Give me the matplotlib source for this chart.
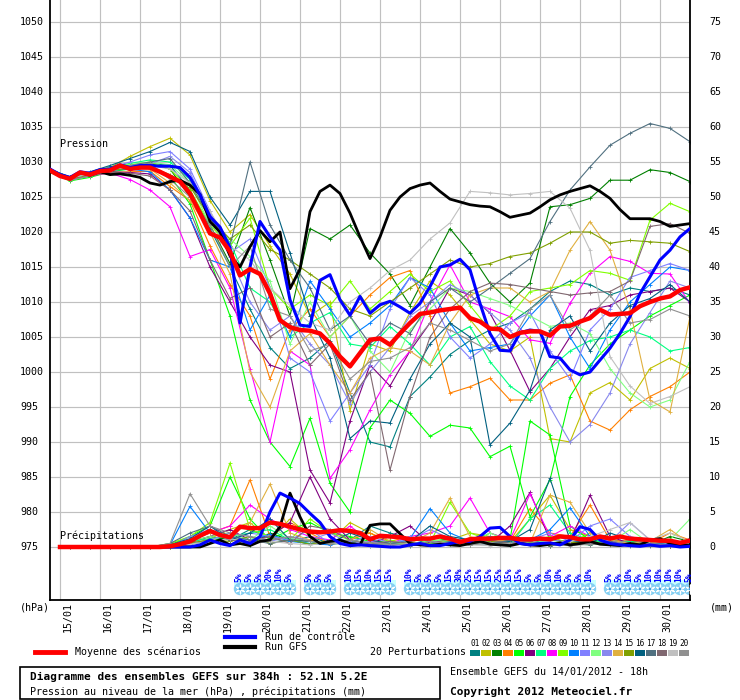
import numpy as np
import matplotlib
matplotlib.use("Agg")
import matplotlib.pyplot as plt
from matplotlib.patches import Rectangle
from matplotlib.lines import Line2D

plt.rcParams['font.family'] = ['DejaVu Sans Mono']

# ---- data (hours since 14/01 18h) ----
hours6 = np.arange(0, 385, 6)       # 65 steps for mean / control / GFS
hours12 = np.arange(0, 385, 12)     # 33 steps for the perturbations
day_labels = ['15/01', '16/01', '17/01', '18/01', '19/01', '20/01', '21/01', '22/01',
              '23/01', '24/01', '25/01', '26/01', '27/01', '28/01', '29/01', '30/01']

mean_pres = [1028.8, 1028.0, 1027.6, 1028.5, 1028.2, 1028.7, 1028.8, 1029.5, 1029.0, 1029.2,
             1029.2, 1028.6, 1027.9, 1027.2, 1025.5, 1022.7, 1019.8, 1019.2, 1017.2, 1013.8,
             1014.7, 1014.0, 1011.2, 1007.4, 1006.4, 1006.0, 1005.9, 1005.5, 1004.1, 1002.2,
             1000.8, 1002.7, 1004.6, 1004.8, 1003.9, 1005.5, 1007.0, 1008.3, 1008.5, 1008.8,
             1009.0, 1009.2, 1007.7, 1007.2, 1006.2, 1006.1, 1005.0, 1005.6, 1005.8, 1005.8,
             1005.2, 1006.5, 1006.6, 1007.2, 1007.7, 1008.9, 1008.2, 1008.3, 1008.4, 1009.4,
             1010.0, 1010.5, 1010.8, 1011.7, 1012.1]
ctrl_pres = [1029.0, 1028.2, 1027.8, 1028.6, 1028.4, 1028.9, 1029.0, 1029.6, 1029.2, 1029.5,
             1029.5, 1029.4, 1029.4, 1029.2, 1027.8, 1025.3, 1022.2, 1020.7, 1017.8, 1007.0,
             1015.0, 1021.5, 1019.3, 1017.4, 1010.3, 1006.7, 1006.5, 1013.1, 1013.9, 1010.3,
             1008.1, 1010.8, 1008.4, 1009.6, 1010.1, 1009.3, 1008.4, 1009.8, 1012.2, 1015.0,
             1015.3, 1016.1, 1014.6, 1009.8, 1005.5, 1003.1, 1003.0, 1005.6, 1006.0, 1005.8,
             1002.2, 1002.0, 1000.3, 999.6, 1000.0, 1001.7, 1003.4, 1005.5, 1007.9, 1011.2,
             1013.6, 1016.0, 1017.4, 1019.3, 1020.5]
gfs_pres = [1028.9, 1028.0, 1027.6, 1028.5, 1028.1, 1028.6, 1028.2, 1028.3, 1028.1, 1027.8,
            1027.0, 1026.7, 1027.2, 1027.4, 1026.7, 1025.4, 1021.5, 1020.0, 1016.6, 1015.0,
            1017.9, 1020.2, 1018.6, 1020.0, 1011.9, 1014.7, 1022.9, 1025.8, 1026.7, 1025.5,
            1022.7, 1019.3, 1016.2, 1019.3, 1023.1, 1025.0, 1026.2, 1026.7, 1027.0, 1025.8,
            1024.7, 1024.3, 1023.9, 1023.7, 1023.6, 1022.9, 1022.1, 1022.4, 1022.7, 1023.6,
            1024.6, 1025.3, 1025.8, 1026.2, 1026.6, 1025.8, 1024.8, 1023.2, 1021.9, 1021.9,
            1021.9, 1021.5, 1020.8, 1021.0, 1021.2]

# precipitation (mm), from +6h
mean_rain = [0, 0, 0, 0, 0, 0, 0, 0, 0, 0,
             0, 0.1, 0.4, 0.8, 1.6, 2.3, 1.7, 1.4, 2.9, 2.7,
             2.7, 3.5, 3.3, 2.9, 2.5, 2.2, 2.1, 2.2, 2.4, 2.3,
             2.0, 1.1, 1.6, 1.5, 1.4, 1.1, 1.2, 1.2, 1.5, 1.2,
             0.7, 1.1, 1.2, 1.2, 1.3, 1.3, 1.1, 1.1, 1.2, 1.1,
             1.5, 1.4, 1.1, 1.1, 1.5, 1.2, 1.5, 1.2, 1.1, 1.0,
             0.9, 0.9, 0.6, 0.9]
ctrl_rain = [0, 0, 0, 0, 0, 0, 0, 0, 0, 0,
             0, 0, 0, 0, 0.3, 1.0, 0.5, 0.2, 1.0, 0.5,
             1.5, 5.0, 7.7, 7.0, 6.2, 4.8, 3.5, 1.5, 0.5, 0.2,
             0.3, 0.2, 0.1, 0.0, 0.0, 0.3, 0.5, 0.2, 0.2, 0.5,
             0.8, 0.8, 1.5, 2.7, 2.8, 1.5, 0.5, 0.3, 0.5, 0.6,
             0.3, 1.0, 2.9, 2.5, 1.0, 0.5, 0.3, 0.2, 0.1, 0.3,
             0.1, 0.2, 0.0, 0.1]
gfs_rain = [0, 0, 0, 0, 0, 0, 0, 0, 0, 0,
            0, 0, 0, 0, 0, 0.5, 1.0, 0.3, 0.5, 0.2,
            0.8, 1.0, 2.9, 7.7, 4.3, 1.5, 0.5, 0.8, 1.0, 0.5,
            0.3, 3.1, 3.3, 3.3, 1.9, 0.5, 0.3, 0.2, 0.4, 0.3,
            0.2, 0.5, 0.8, 0.4, 0.3, 0.2, 0.5, 0.3, 0.2, 0.4,
            0.6, 0.3, 0.5, 0.8, 0.4, 0.3, 0.2, 0.5, 0.3, 1.0,
            1.2, 0.5, 0.3, 0.2]

pert_colors = ['#008080', '#c0c000', '#008000', '#ff8000', '#00ff00', '#800080', '#00ff80',
               '#ff00ff', '#80ff00', '#0080ff', '#8080ff', '#80ff80', '#8888ee', '#e0b040',
               '#80a000', '#006080', '#507080', '#806870', '#c0c0c0', '#909090']

pert_pres = [
    [1029.0, 1027.8, 1028.5, 1029.0, 1029.3, 1029.8, 1029.5, 1026.0, 1020.5, 1015.0, 1009.0,
     1003.5, 1000.5, 1002.0, 1004.5, 997.0, 990.0, 989.3, 996.5, 999.3, 1002.5, 1004.5,
     1006.0, 1007.0, 1009.0, 1011.5, 1013.0, 1012.5, 1011.0, 1012.0, 1011.5, 1012.0, 1011.0],
    [1028.6, 1027.4, 1028.2, 1029.2, 1030.8, 1032.2, 1033.4, 1031.0, 1024.5, 1020.0, 1022.5,
     1018.0, 1014.0, 1008.0, 1010.0, 994.5, 1004.0, 1003.0, 1008.5, 1013.0, 1011.0, 1007.5,
     1004.0, 1003.0, 1005.0, 990.5, 990.0, 997.0, 998.5, 996.0, 1000.5, 1002.0, 1000.5],
    [1028.7, 1027.5, 1028.3, 1028.9, 1029.4, 1029.8, 1029.0, 1025.0, 1021.0, 1015.5, 1023.5,
     1016.0, 1008.0, 1020.5, 1019.0, 1021.0, 1017.0, 1014.0, 1009.5, 1015.0, 1020.5, 1017.0,
     1012.7, 1010.0, 1012.7, 1023.6, 1023.9, 1024.8, 1027.4, 1027.4, 1028.9, 1028.5, 1027.2],
    [1028.9, 1027.7, 1028.0, 1028.5, 1028.6, 1028.7, 1026.5, 1024.5, 1018.0, 1012.5, 1008.0,
     999.0, 1006.0, 1009.0, 1005.0, 1008.0, 1011.0, 1013.5, 1014.5, 1008.0, 997.0, 997.9,
     999.1, 996.0, 996.0, 998.4, 999.6, 993.0, 991.7, 994.6, 996.5, 997.9, 1000.0],
    [1028.5, 1027.3, 1027.8, 1028.6, 1029.0, 1029.2, 1028.0, 1024.0, 1016.0, 1008.0, 996.0,
     990.0, 986.5, 993.4, 984.1, 980.0, 992.0, 996.0, 994.1, 990.8, 992.4, 992.0,
     987.9, 989.4, 979.3, 984.6, 996.5, 1001.0, 1004.0, 1006.0, 1008.0, 1009.5, 1011.0],
    [1028.8, 1027.6, 1028.0, 1028.6, 1028.5, 1028.3, 1026.0, 1022.0, 1015.0, 1010.0, 1005.0,
     1001.0, 1000.0, 986.0, 981.3, 993.0, 1001.0, 998.0, 1003.0, 1007.0, 1012.0, 1011.0,
     1008.4, 1003.1, 997.2, 1000.5, 1005.0, 1008.9, 1009.5, 1011.0, 1011.5, 1012.0, 1010.0],
    [1028.8, 1027.7, 1028.4, 1029.2, 1029.8, 1030.3, 1030.0, 1027.5, 1022.0, 1018.5, 1012.0,
     1010.0, 1005.0, 1007.0, 1008.5, 1004.0, 1003.5, 1006.5, 1004.0, 1001.0, 1005.0, 1006.5,
     1001.5, 998.0, 996.0, 1000.5, 1003.0, 1004.5, 1005.0, 1006.0, 1005.0, 1003.0, 1003.5],
    [1028.7, 1027.5, 1028.1, 1028.4, 1027.5, 1026.0, 1023.6, 1016.5, 1017.5, 1012.0, 1000.5,
     990.0, 1003.0, 1001.0, 984.8, 988.9, 994.6, 999.6, 1003.0, 1010.0, 1015.3, 1010.0,
     1009.0, 1007.9, 1004.6, 1004.1, 1009.8, 1014.1, 1016.5, 1015.8, 1014.1, 1014.0, 1009.8],
    [1028.9, 1027.8, 1028.5, 1029.3, 1029.6, 1030.0, 1029.0, 1026.0, 1021.0, 1018.0, 1022.0,
     1012.0, 1009.0, 1011.0, 1009.5, 1013.0, 1009.0, 1011.5, 1014.0, 1011.5, 1013.0, 1009.5,
     1006.0, 1008.0, 1011.5, 1012.0, 1012.5, 1014.5, 1014.1, 1013.1, 1021.7, 1024.1, 1022.9],
    [1028.8, 1027.6, 1028.2, 1028.8, 1029.0, 1028.6, 1026.0, 1022.0, 1016.0, 1015.0, 1006.0,
     1011.0, 1005.0, 1013.0, 1009.0, 1005.0, 1007.0, 1009.5, 1013.5, 1012.0, 1007.0, 1003.0,
     1003.5, 1004.0, 1008.0, 1011.0, 1005.0, 1000.5, 1006.0, 1010.0, 1012.5, 1015.0, 1014.5],
    [1028.7, 1027.5, 1028.3, 1029.2, 1030.0, 1031.0, 1031.5, 1029.0, 1023.0, 1017.0, 1019.0,
     1012.0, 1002.0, 1000.0, 993.0, 997.0, 1001.0, 1009.0, 1013.5, 1011.0, 1005.0, 1002.0,
     1004.0, 1007.0, 1008.5, 1003.0, 999.0, 1006.0, 1009.0, 1013.5, 1014.5, 1015.5, 1014.5],
    [1028.8, 1027.6, 1028.2, 1029.0, 1029.6, 1030.0, 1029.6, 1027.0, 1021.0, 1019.0, 1016.5,
     1013.0, 1004.0, 1010.0, 1005.0, 1008.0, 1003.0, 1000.0, 1006.0, 1009.0, 1012.0, 1011.5,
     1010.5, 1009.5, 1008.0, 1006.5, 1007.0, 1005.5, 1000.5, 997.0, 995.0, 996.0, 1001.5],
    [1028.6, 1027.4, 1028.0, 1028.7, 1029.3, 1029.7, 1030.8, 1028.5, 1022.5, 1016.5, 1010.0,
     1006.0, 1008.0, 1004.0, 1001.0, 995.5, 1000.0, 1003.5, 1008.0, 1010.0, 1012.5, 1011.0,
     1008.5, 1006.0, 1002.0, 995.0, 990.0, 992.5, 997.0, 1004.0, 1008.5, 1013.0, 1012.0],
    [1028.9, 1027.8, 1028.3, 1029.0, 1029.3, 1029.0, 1027.0, 1024.5, 1020.0, 1014.0, 1000.0,
     995.0, 1003.0, 1005.5, 1001.0, 997.0, 1002.0, 1003.5, 1003.0, 1001.0, 1007.0, 1011.0,
     1012.0, 1012.0, 1010.0, 1011.5, 1017.4, 1021.5, 1017.4, 1008.9, 996.0, 994.3, 1007.9],
    [1028.7, 1027.5, 1028.2, 1028.8, 1029.1, 1029.3, 1028.2, 1026.5, 1022.0, 1019.0, 1021.0,
     1017.5, 1016.0, 1014.0, 1012.0, 1009.0, 1008.0, 1010.0, 1012.0, 1014.0, 1016.0, 1015.0,
     1015.5, 1016.5, 1017.0, 1018.4, 1020.0, 1020.0, 1018.4, 1018.8, 1018.6, 1018.4, 1017.2],
    [1028.9, 1027.9, 1028.6, 1029.5, 1030.5, 1031.5, 1032.8, 1031.5, 1025.0, 1021.0, 1025.8,
     1025.8, 1017.0, 1008.0, 1002.0, 990.5, 993.0, 992.7, 999.0, 1004.0, 1007.0, 1005.0,
     989.6, 992.7, 997.4, 1006.0, 1008.0, 1003.0, 1007.0, 1009.5, 1010.5, 1012.5, 1010.0],
    [1028.8, 1027.6, 1028.4, 1029.0, 1029.5, 1030.0, 1030.5, 1027.0, 1022.0, 1018.0, 1030.0,
     1021.0, 1016.0, 1012.0, 1006.0, 1008.0, 1004.0, 1007.0, 1005.5, 1010.0, 1012.0, 1010.0,
     1012.0, 1014.1, 1016.2, 1021.5, 1026.0, 1029.3, 1032.4, 1034.1, 1035.5, 1034.8, 1032.9],
    [1028.7, 1027.5, 1028.0, 1028.5, 1028.4, 1028.0, 1026.0, 1023.0, 1016.0, 1010.5, 1012.0,
     1005.0, 1007.0, 1001.0, 1004.0, 996.0, 1000.0, 986.0, 996.5, 1005.0, 1009.0, 1011.5,
     1012.7, 1012.5, 1012.0, 1011.5, 1011.0, 1011.3, 1011.5, 1013.0, 1020.8, 1021.2, 1019.8],
    [1028.9, 1027.7, 1028.3, 1029.0, 1029.3, 1029.5, 1029.0, 1027.0, 1023.0, 1018.0, 1016.0,
     1012.0, 1009.5, 1007.0, 1006.0, 1010.0, 1012.0, 1014.5, 1016.0, 1019.0, 1021.3, 1025.8,
     1025.6, 1025.3, 1025.5, 1025.8, 1023.4, 1017.4, 1002.2, 998.0, 995.5, 996.5, 997.9],
    [1028.6, 1027.4, 1028.0, 1028.8, 1029.5, 1029.8, 1027.5, 1025.0, 1021.0, 1015.0, 1018.0,
     1009.0, 1008.0, 1003.0, 1004.0, 999.0, 1001.5, 1002.0, 1003.5, 1007.0, 1006.0, 1004.5,
     1003.0, 1004.0, 1009.0, 1011.0, 1006.0, 1008.0, 1011.0, 1007.0, 1007.5, 1009.0, 1008.0],
]

# perturbation precipitation (mm), from +12h
pert_rain = [
    [0, 0, 0, 0, 0, 0.1, 0.8, 1.5, 1.0, 2.5, 1.2, 0.8, 1.5, 0.5,
     1.0, 3.0, 2.0, 1.2, 0.5, 0.8, 0.3, 1.5, 0.8, 0.5, 1.2, 0.4, 1.0, 0.6, 0.3, 0.4, 0.2, 0.5],
    [0, 0, 0, 0, 0, 0, 0.3, 1.2, 2.5, 3.5, 1.0, 4.0, 1.5, 0.8,
     3.5, 2.0, 0.5, 0.3, 0.5, 1.0, 2.0, 1.5, 0.7, 4.0, 7.4, 2.5, 1.5, 0.5, 1.0, 0.4, 0.8, 0.3],
    [0, 0, 0, 0, 0, 0, 0.5, 0.8, 1.5, 0.3, 2.0, 1.0, 0.4, 1.0,
     0.8, 0.2, 0.5, 0.3, 0.8, 0.5, 1.2, 0.4, 0.3, 0.6, 0.2, 0.3, 2.0, 1.0, 0.5, 0.3, 1.5, 0.8],
    [0, 0, 0, 0, 0, 0.2, 1.0, 2.0, 3.0, 9.6, 1.5, 3.5, 2.0, 0.5,
     1.0, 2.0, 0.8, 1.5, 0.5, 1.0, 0.4, 1.2, 0.8, 5.5, 2.0, 1.5, 6.0, 1.0, 0.8, 0.5, 2.0, 1.0],
    [0, 0, 0, 0, 0, 0.3, 1.5, 3.0, 10.0, 4.0, 1.0, 2.5, 3.5, 2.0,
     1.5, 0.8, 0.5, 0.4, 0.8, 1.2, 0.5, 2.0, 1.0, 18.0, 16.0, 3.0, 1.0, 0.5, 0.8, 0.3, 0.5, 0.2],
    [0, 0, 0, 0, 0, 0.1, 0.6, 1.5, 2.5, 1.0, 1.5, 3.5, 10.0, 4.0,
     1.0, 0.5, 1.5, 3.0, 0.5, 1.2, 0.8, 0.6, 3.0, 7.8, 1.0, 0.8, 7.4, 1.5, 0.5, 0.8, 0.3, 1.2],
    [0, 0, 0, 0, 0, 0.2, 0.8, 1.2, 1.5, 2.0, 2.5, 1.0, 0.5, 0.8,
     1.0, 0.5, 0.6, 0.3, 0.5, 0.8, 1.0, 0.5, 0.3, 4.0, 6.0, 2.0, 1.0, 0.5, 0.8, 0.3, 0.5, 1.0],
    [0, 0, 0, 0, 0, 0.2, 1.0, 2.0, 3.0, 6.0, 4.0, 2.5, 1.5, 1.0,
     3.0, 0.8, 0.5, 1.5, 2.0, 3.0, 7.0, 2.0, 1.0, 7.6, 1.5, 3.0, 1.5, 0.8, 0.5, 0.3, 0.2, 0.8],
    [0, 0, 0, 0, 0, 0.5, 1.5, 3.5, 12.0, 2.5, 1.5, 1.0, 4.0, 2.0,
     1.0, 0.5, 1.0, 0.3, 0.5, 6.4, 2.0, 1.0, 0.5, 0.8, 1.5, 0.5, 2.0, 0.5, 0.3, 1.0, 0.5, 0.3],
    [0, 0, 0, 0, 0, 0.3, 5.8, 2.0, 1.5, 1.0, 1.8, 0.8, 0.5, 0.3,
     1.0, 0.5, 0.3, 1.2, 5.5, 2.0, 0.8, 1.5, 0.5, 1.0, 2.5, 5.6, 1.5, 1.0, 0.5, 0.3, 0.8, 0.4],
    [0, 0, 0, 0, 0, 0.1, 1.5, 2.5, 1.0, 2.0, 1.5, 1.0, 2.5, 0.5,
     0.8, 1.5, 0.6, 1.0, 2.5, 1.2, 0.5, 0.8, 1.5, 1.0, 2.0, 0.8, 3.0, 4.0, 1.5, 0.8, 0.5, 0.3],
    [0, 0, 0, 0, 0, 0.2, 0.8, 1.5, 2.0, 1.0, 3.0, 1.2, 0.8, 0.5,
     0.4, 0.3, 0.6, 0.2, 1.0, 0.8, 0.5, 2.0, 0.8, 0.5, 1.0, 0.5, 0.3, 0.6, 2.5, 0.5, 1.0, 4.0],
    [0, 0, 0, 0, 0, 0.1, 0.5, 1.0, 2.0, 1.5, 0.8, 1.5, 1.0, 2.0,
     0.5, 0.8, 0.3, 1.5, 0.8, 0.5, 1.0, 0.8, 0.5, 1.0, 1.2, 0.5, 1.5, 0.8, 3.5, 1.0, 0.5, 0.3],
    [0, 0, 0, 0, 0, 0.1, 1.0, 2.0, 1.5, 3.5, 9.0, 2.0, 1.0, 0.5,
     1.0, 2.5, 0.8, 0.5, 2.0, 7.0, 1.5, 0.8, 1.0, 0.5, 7.4, 6.4, 2.0, 1.0, 0.5, 0.8, 2.5, 0.5],
    [0, 0, 0, 0, 0, 0.2, 0.6, 1.0, 0.8, 1.5, 0.5, 1.0, 0.4, 0.8,
     0.3, 0.5, 0.2, 0.6, 0.4, 0.5, 0.3, 0.8, 0.5, 0.4, 0.3, 0.6, 0.8, 0.4, 0.5, 0.3, 0.2, 0.4],
    [0, 0, 0, 0, 0, 0.3, 1.2, 3.0, 1.0, 2.0, 4.0, 1.0, 0.8, 0.5,
     2.0, 1.0, 0.5, 0.8, 3.0, 1.5, 1.0, 0.5, 0.8, 2.5, 9.8, 1.0, 0.5, 2.0, 1.0, 0.5, 0.3, 0.2],
    [0, 0, 0, 0, 0, 0.5, 2.0, 3.0, 1.5, 1.0, 0.5, 1.0, 0.8, 0.4,
     0.6, 0.3, 0.5, 0.2, 0.3, 0.8, 0.5, 0.4, 1.0, 0.3, 0.2, 0.5, 0.3, 0.8, 0.2, 0.1, 0.2, 0.1],
    [0, 0, 0, 0, 0, 0.2, 1.0, 2.5, 1.0, 0.8, 1.5, 0.5, 3.0, 2.5,
     1.0, 0.4, 0.8, 0.5, 0.3, 0.6, 0.4, 1.0, 0.5, 0.8, 0.3, 0.5, 0.4, 0.6, 0.3, 0.5, 0.2, 0.3],
    [0, 0, 0, 0, 0, 0.1, 0.4, 0.8, 1.2, 0.6, 0.8, 0.5, 0.3, 0.6,
     0.4, 0.2, 0.3, 0.5, 0.2, 0.4, 0.3, 0.2, 0.5, 0.3, 0.6, 0.8, 1.5, 2.5, 3.5, 1.0, 2.0, 0.8],
    [0, 0, 0, 0, 0, 0.5, 7.6, 3.0, 2.0, 1.5, 1.0, 1.5, 0.8, 0.5,
     1.0, 0.6, 0.4, 0.3, 0.8, 0.5, 0.3, 0.6, 0.4, 0.5, 0.3, 0.2, 0.4, 0.3, 1.0, 0.5, 0.3, 0.4],
]

# snow probability (%) per 6h step
snow_hours = [114, 120, 126, 132, 138, 144,
              156, 162, 168,
              180, 186, 192, 198, 204,
              216, 222, 228, 234, 240, 246, 252, 258, 264, 270, 276, 282, 288, 294, 300, 306, 312, 318, 324,
              336, 342, 348, 354, 360, 366, 372, 378, 384]
snow_pct = [5, 5, 5, 20, 10, 5,
            5, 5, 5,
            10, 15, 10, 15, 15,
            10, 5, 5, 5, 15, 30, 25, 15, 15, 25, 15, 15, 5, 5, 10, 10, 5, 5, 10,
            5, 5, 10, 5, 10, 10, 10, 10, 5]

# ---- figure ----
W, H = 740, 700
fig = plt.figure(figsize=(W / 100, H / 100), dpi=100)
fig.patch.set_facecolor('white')


def fx(px):
    return px / W


def fy(py):
    return 1 - py / H


ax = fig.add_axes([fx(50), fy(600), 640 / W, 600 / H])
ymin = 975 - 53 / 7
ymax = 975 + 547 / 7
ax.set_xlim(0, 384)
ax.set_ylim(ymin, ymax)
ax.set_xticks([])
ax.set_yticks([])
for s in ['left', 'right', 'bottom']:
    ax.spines[s].set_linewidth(1.3)
    ax.spines[s].set_color('black')
ax.spines['top'].set_visible(False)


def py2y(py):
    return 975 + (547 - py) / 7


day_hours = [6 + 24 * k for k in range(len(day_labels))]
for h in day_hours:
    ax.axvline(h, color='#c0c0c0', lw=0.85, zorder=0)
for v in range(975, 1051, 5):
    ax.axhline(v, color='#c0c0c0', lw=0.85, zorder=0)

fs = 7.2
tr = ax.get_yaxis_transform()
for v in range(975, 1051, 5):
    ax.text(-30 / 640, v, str(v), transform=tr, ha='left', va='center', fontsize=fs)
    ax.text(1 + 19 / 640, v, str(v - 975), transform=tr, ha='left', va='center', fontsize=fs)

for h, lab in zip(day_hours, day_labels):
    ax.text(h + 4.5, ymin - 0.35, lab, rotation=90, ha='center', va='top', fontsize=fs)

fig.text(fx(20), fy(607), '(hPa)', ha='left', va='center', fontsize=fs)
fig.text(fx(710), fy(607), '(mm)', ha='left', va='center', fontsize=fs)

ax.text(6, py2y(144), 'Pression', ha='left', va='center', fontsize=fs)
ax.text(6, py2y(536), 'Précipitations', ha='left', va='center', fontsize=fs)

# perturbations
for pres, rain, col in zip(pert_pres, pert_rain, pert_colors):
    ax.plot(hours12, pres, color=col, lw=0.8, marker='+', ms=2.6, mew=0.6, zorder=2)
    ax.plot(hours12[1:], 975 + np.array(rain), color=col, lw=0.8, marker='+', ms=2.6,
            mew=0.6, zorder=2)

ax.plot(hours6, gfs_pres, color='black', lw=2.0, zorder=3)
ax.plot(hours6[1:], 975 + np.array(gfs_rain), color='black', lw=2.0, zorder=3)
ax.plot(hours6, ctrl_pres, color='#0000ff', lw=2.2, zorder=4)
ax.plot(hours6[1:], 975 + np.array(ctrl_rain), color='#0000ff', lw=2.2, zorder=4)
ax.plot(hours6, mean_pres, color='#ff0000', lw=3.2, zorder=5)
ax.plot(hours6[1:], 975 + np.array(mean_rain), color='#ff0000', lw=3.2, zorder=5)

# snow strip
groups = []
for h in snow_hours:
    if groups and h - groups[-1][-1] == 6:
        groups[-1].append(h)
    else:
        groups.append([h])
for g in groups:
    ax.add_patch(Rectangle((g[0] - 3.5, py2y(586)), g[-1] - g[0] + 7, 6 / 7,
                           facecolor='#c8ffff', edgecolor='none', zorder=1))
ax.scatter(snow_hours, [py2y(589)] * len(snow_hours), s=80, marker='o',
           color='#84cff2', edgecolor='none', zorder=2)
ax.scatter(snow_hours, [py2y(589)] * len(snow_hours), s=40, marker=(6, 2, 0),
           color='white', linewidths=0.9, zorder=3)
ax.scatter(snow_hours, [py2y(589)] * len(snow_hours), s=4, marker='o',
           color='#3a9ee0', edgecolor='none', zorder=3)
for h, p in zip(snow_hours, snow_pct):
    ax.text(h - 0.5, py2y(582), f'{p}%', rotation=90, ha='center', va='bottom',
            color='#0000ff', fontsize=5.8, fontweight='bold', zorder=4)

# legend
fig.add_artist(Line2D([fx(35), fx(65)], [fy(652), fy(652)], color='#ff0000', lw=3.5))
fig.text(fx(75), fy(652), 'Moyenne des scénarios', ha='left', va='center', fontsize=fs)
fig.add_artist(Line2D([fx(225), fx(255)], [fy(637), fy(637)], color='#0000ff', lw=3))
fig.text(fx(265), fy(637), 'Run de contrôle', ha='left', va='center', fontsize=fs)
fig.add_artist(Line2D([fx(225), fx(255)], [fy(647), fy(647)], color='black', lw=3))
fig.text(fx(265), fy(647), 'Run GFS', ha='left', va='center', fontsize=fs)
fig.text(fx(370), fy(652), '20 Perturbations', ha='left', va='center', fontsize=fs)
for k, col in enumerate(pert_colors):
    x0 = 470 + 11 * k
    fig.add_artist(Rectangle((fx(x0), fy(656)), 10 / W, 6 / H, facecolor=col,
                             edgecolor='none', transform=fig.transFigure))
    fig.text(fx(x0 + 5), fy(644), f'{k + 1:02d}', ha='center', va='center', fontsize=5.6)

# info box
fig.add_artist(Rectangle((fx(20), fy(699)), 420 / W, 32 / H, fill=False, edgecolor='black',
                         lw=1.2, transform=fig.transFigure))
fig.text(fx(30), fy(677), 'Diagramme des ensembles GEFS sur 384h : 52.1N 5.2E',
         ha='left', va='center', fontsize=8.0, fontweight='bold')
fig.text(fx(30), fy(692), 'Pression au niveau de la mer (hPa) , précipitations (mm)',
         ha='left', va='center', fontsize=fs)
fig.text(fx(450), fy(672), 'Ensemble GEFS du 14/01/2012 - 18h', ha='left', va='center', fontsize=fs)
fig.text(fx(450), fy(692), 'Copyright 2012 Meteociel.fr', ha='left', va='center',
         fontsize=8.0, fontweight='bold')

fig.savefig('out.png', dpi=100)
